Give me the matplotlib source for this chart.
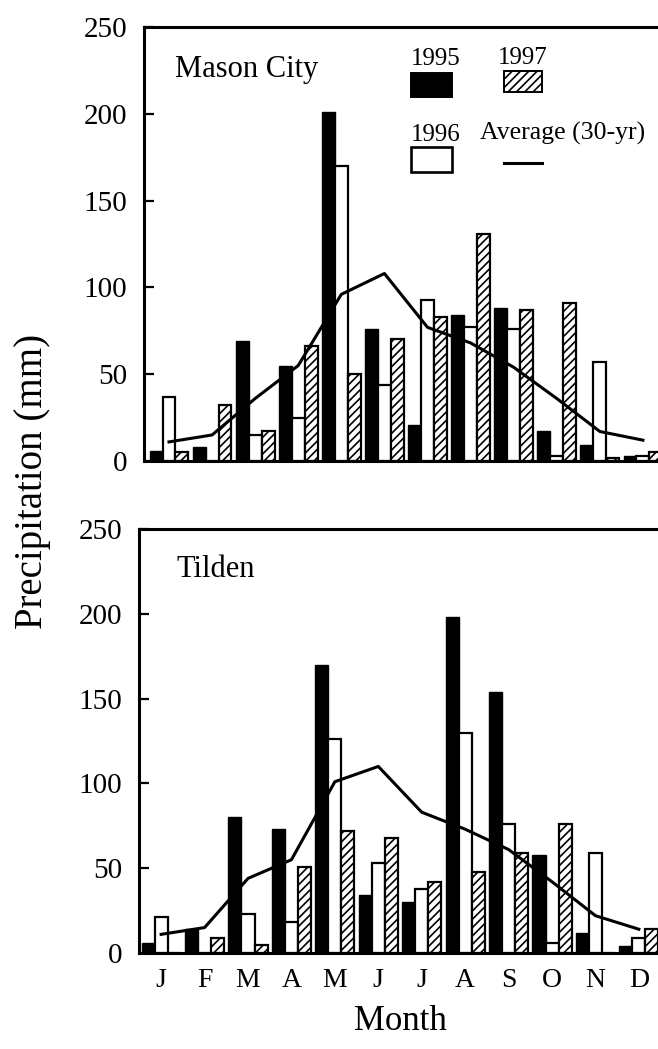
import numpy as np
import matplotlib.pyplot as plt
from matplotlib.patches import Rectangle
from matplotlib.lines import Line2D

plt.rcParams['font.family'] = ['Liberation Serif', 'DejaVu Serif']
plt.rcParams['hatch.linewidth'] = 1.2

# monthly precipitation (mm)
months = ['J', 'F', 'M', 'A', 'M', 'J', 'J', 'A', 'S', 'O', 'N', 'D']

mason_1995 = [6, 8, 69, 55, 201, 76, 21, 84, 88, 17, 9, 3]
mason_1996 = [37, 0, 15, 25, 170, 44, 93, 77, 76, 3, 57, 3]
mason_1997 = [5, 32, 17, 66, 50, 70, 83, 131, 87, 91, 2, 5]
mason_avg = [11, 15, 36, 55, 96, 108, 77, 68, 54, 36, 17, 12]

tilden_1995 = [6, 14, 80, 73, 170, 34, 30, 198, 154, 58, 12, 4]
tilden_1996 = [21, 0, 23, 18, 126, 53, 38, 130, 76, 6, 59, 9]
tilden_1997 = [0, 9, 5, 51, 72, 68, 42, 48, 59, 76, 0, 14]
tilden_avg = [11, 15, 44, 55, 101, 110, 83, 73, 61, 42, 22, 14]

yticks = [0, 50, 100, 150, 200, 250]

x = np.arange(len(months))
w = 0.30


def draw_panel(ax, d95, d96, d97, avg, site, xlim, site_xy):
    ax.bar(x - w, d95, w, color='black', edgecolor='black', linewidth=1.0)
    ax.bar(x, d96, w, color='white', edgecolor='black', linewidth=1.6)
    ax.bar(x + w, d97, w, color='white', edgecolor='black', hatch='////', linewidth=1.6)
    ax.plot(x, avg, color='black', lw=2.2)

    ax.set_xlim(*xlim)
    ax.set_ylim(0, 250)
    ax.set_yticks(yticks)
    ax.set_xticks(x)
    ax.set_xticklabels(months)
    ax.tick_params(axis='y', direction='in', length=7, width=1.6, labelsize=21, pad=12)
    ax.tick_params(axis='x', length=0, labelsize=20, pad=11)
    ax.spines['right'].set_visible(False)
    for s in ['left', 'top', 'bottom']:
        ax.spines[s].set_linewidth(2.2)
    ax.text(site_xy[0], site_xy[1], site, transform=ax.transAxes, fontsize=22, va='baseline')


fig = plt.figure(figsize=(6.58, 10.49), dpi=100)
ax1 = fig.add_axes([144 / 658, 1 - 461 / 1049, 1 - 144 / 658, 434 / 1049])
ax2 = fig.add_axes([139 / 658, 1 - 953 / 1049, 1 - 139 / 658, 424 / 1049])

draw_panel(ax1, mason_1995, mason_1996, mason_1997, mason_avg, 'Mason City',
           (-0.58, 11.35), (0.060, 0.885))
draw_panel(ax2, tilden_1995, tilden_1996, tilden_1997, tilden_avg, 'Tilden',
           (-0.51, 11.44), (0.073, 0.887))
ax1.set_xticklabels([])

# legend (2 x 2, label above key)
tr = ax1.transAxes
ax1.text(0.519, 0.912, '1995', transform=tr, fontsize=18, va='baseline')
ax1.add_patch(Rectangle((0.519, 0.839), 0.080, 0.055, transform=tr,
                        facecolor='black', edgecolor='black', lw=1.4))
ax1.text(0.689, 0.915, '1997', transform=tr, fontsize=18, va='baseline')
ax1.add_patch(Rectangle((0.700, 0.850), 0.074, 0.049, transform=tr,
                        facecolor='white', edgecolor='black', hatch='////', lw=1.4))
ax1.text(0.519, 0.737, '1996', transform=tr, fontsize=18, va='baseline')
ax1.add_patch(Rectangle((0.519, 0.666), 0.080, 0.057, transform=tr,
                        facecolor='white', edgecolor='black', lw=1.9))
ax1.text(0.654, 0.740, 'Average (30-yr)', transform=tr, fontsize=18.5, va='baseline')
ax1.add_line(Line2D([0.700, 0.774], [0.687, 0.687], transform=tr, color='black', lw=2.2))

fig.text(33 / 658, 1 - 481 / 1049, 'Precipitation (mm)', rotation=90,
         fontsize=28, ha='center', va='center')
fig.text(400 / 658, 1 - 1022 / 1049, 'Month', fontsize=25, ha='center', va='center')

fig.savefig('out.png', dpi=100)
